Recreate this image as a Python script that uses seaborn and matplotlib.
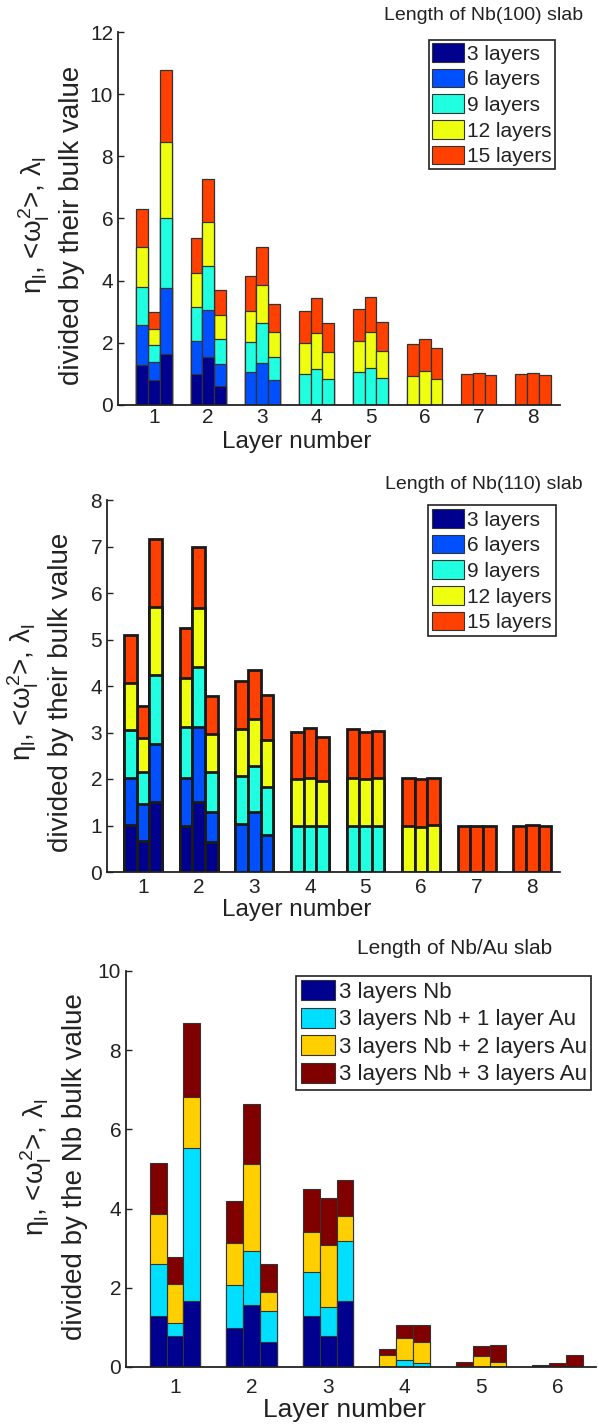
import pandas as pd
import matplotlib
matplotlib.use("Agg")
import matplotlib.pyplot as plt
from matplotlib.patches import Patch
import seaborn as sns

# ---- data (segment heights; every slab starts at layer 1) ----
quantities = ["eta", "omega2", "lambda"]

layers_100 = [1, 2, 3, 4, 5, 6, 7, 8]
slabs_100 = ["3 layers", "6 layers", "9 layers", "12 layers", "15 layers"]
nb100_3 = [(1.29, 0.81, 1.65), (0.99, 1.55, 0.62)]
nb100_6 = [(1.27, 0.56, 2.11), (1.06, 1.51, 0.70), (1.07, 1.35, 0.81)]
nb100_9 = [(1.23, 0.55, 2.26), (1.10, 1.40, 0.79), (0.97, 1.28, 0.75),
           (0.99, 1.17, 0.84), (1.05, 1.20, 0.86)]
nb100_12 = [(1.28, 0.52, 2.43), (1.10, 1.44, 0.77), (1.00, 1.23, 0.80),
            (1.00, 1.14, 0.87), (1.02, 1.16, 0.88), (0.93, 1.08, 0.85)]
nb100_15 = [(1.25, 0.55, 2.32), (1.12, 1.37, 0.83), (1.10, 1.23, 0.89),
            (1.04, 1.14, 0.93), (1.03, 1.11, 0.94), (1.03, 1.05, 0.99),
            (1.00, 1.02, 0.98), (1.00, 1.02, 0.98)]

layers_110 = [1, 2, 3, 4, 5, 6, 7, 8]
slabs_110 = ["3 layers", "6 layers", "9 layers", "12 layers", "15 layers"]
nb110_3 = [(1.02, 0.66, 1.50), (0.98, 1.50, 0.64)]
nb110_6 = [(1.00, 0.81, 1.26), (1.05, 1.61, 0.66), (1.03, 1.28, 0.80)]
nb110_9 = [(1.04, 0.69, 1.48), (1.08, 1.29, 0.85), (1.03, 1.01, 1.03),
           (0.99, 1.00, 0.99), (1.00, 1.00, 1.00)]
nb110_12 = [(1.00, 0.72, 1.45), (1.06, 1.27, 0.82), (1.02, 1.01, 1.00),
            (1.01, 1.03, 0.97), (1.03, 0.99, 1.03), (1.00, 0.97, 1.02)]
nb110_15 = [(1.04, 0.68, 1.47), (1.07, 1.31, 0.82), (1.03, 1.05, 0.98),
            (1.01, 1.06, 0.95), (1.04, 1.03, 1.01), (1.03, 1.03, 1.01),
            (1.00, 1.00, 0.99), (1.00, 1.01, 0.98)]

layers_au = [1, 2, 3, 4, 5, 6]
slabs_au = ["3 layers Nb", "3 layers Nb + 1 layer Au",
            "3 layers Nb + 2 layers Au", "3 layers Nb + 3 layers Au"]
nbau_0 = [(1.30, 0.79, 1.66), (0.98, 1.57, 0.64), (1.30, 0.79, 1.66)]
nbau_1 = [(1.30, 0.32, 3.86), (1.10, 1.36, 0.78), (1.11, 0.73, 1.51),
          (0.01, 0.17, 0.10)]
nbau_2 = [(1.26, 0.98, 1.29), (1.05, 2.19, 0.47), (1.01, 1.56, 0.65),
          (0.30, 0.57, 0.53), (0.03, 0.28, 0.12)]
nbau_3 = [(1.28, 0.70, 1.88), (1.07, 1.52, 0.72), (1.07, 1.19, 0.90),
          (0.14, 0.32, 0.42), (0.10, 0.25, 0.43), (0.04, 0.10, 0.30)]

jet_colors = ["#00008f", "#0050ff", "#20ffdf", "#efff10", "#ff4000"]
au_colors = ["#00008f", "#00dfff", "#ffcf00", "#800000"]


def stack_frame(names, values):
    rows = []
    for name, vals in zip(names, values):
        for i, triple in enumerate(vals):
            for q, v in zip(quantities, triple):
                rows.append({"series": name, "layer": i + 1, "quantity": q, "value": v})
    df = pd.DataFrame(rows)
    df["series"] = pd.Categorical(df["series"], categories=names, ordered=True)
    df = df.sort_values(["layer", "quantity", "series"])
    df["top"] = df.groupby(["layer", "quantity"])["value"].cumsum()
    return df


def draw_panel(ax, df, names, colors, layers, width, edge, lw):
    # paint cumulative tops from the top slab down so each segment shows
    for name, color in reversed(list(zip(names, colors))):
        sub = df[df["series"] == name]
        sns.barplot(data=sub, x="layer", y="top", hue="quantity",
                    order=layers, hue_order=quantities,
                    palette={q: color for q in quantities},
                    width=width, dodge=True, errorbar=None, saturation=1,
                    edgecolor=edge, linewidth=lw, legend=False, ax=ax)


sns.set_style("ticks")
plt.rcParams["font.family"] = ["Liberation Sans", "DejaVu Sans"]
plt.rcParams["mathtext.fontset"] = "custom"
plt.rcParams["mathtext.rm"] = "Liberation Sans"
plt.rcParams["mathtext.it"] = "Liberation Sans"
plt.rcParams["text.color"] = "#222222"

W, H = 599, 1426
fig = plt.figure(figsize=(W / 100, H / 100), dpi=100)


def px_axes(left, top, right, bottom):
    return fig.add_axes([left / W, 1 - bottom / H, (right - left) / W, (bottom - top) / H])


ylab1 = r"$\eta_\mathrm{l}$, <$\omega_\mathrm{l}^\mathrm{2}$>, $\lambda_\mathrm{l}$"

panels = [
    dict(box=(118, 32, 560, 405), df=stack_frame(slabs_100, [nb100_3, nb100_6, nb100_9, nb100_12, nb100_15]),
         names=slabs_100, colors=jet_colors, layers=layers_100, width=0.65, edge="#333333", lw=0.9,
         xlim=(-0.665, 7.5), ylim=(0, 12), yticks=range(0, 13, 2),
         title="Length of Nb(100) slab", title_xy=(583, 15), title_ha="right", title_fs=14,
         leg_xy=(555, 40), leg_fs=15, leg_sp=0.25, leg_bp=0.15, ylab2="divided by their bulk value",
         ylab_x=(34, 72), ylab_y=225, xlab_xy=(297, 442), xlab_fs=17.5, tick_pad=2),
    dict(box=(107, 500, 560, 872), df=stack_frame(slabs_110, [nb110_3, nb110_6, nb110_9, nb110_12, nb110_15]),
         names=slabs_110, colors=jet_colors, layers=layers_110, width=0.68, edge="#1a1a1a", lw=2.0,
         xlim=(-0.65, 7.5), ylim=(0, 8), yticks=range(0, 9),
         title="Length of Nb(110) slab", title_xy=(583, 485), title_ha="right", title_fs=14,
         leg_xy=(556, 505), leg_fs=15, leg_sp=0.25, leg_bp=0.2, ylab2="divided by their bulk value",
         ylab_x=(23, 61), ylab_y=692, xlab_xy=(297, 910), xlab_fs=17.5, tick_pad=4),
    dict(box=(126, 971, 596, 1367), df=stack_frame(slabs_au, [nbau_0, nbau_1, nbau_2, nbau_3]),
         names=slabs_au, colors=au_colors, layers=layers_au, width=0.66, edge="#333333", lw=0.8,
         xlim=(-0.64, 5.5), ylim=(0, 10), yticks=range(0, 11, 2),
         title="Length of Nb/Au slab", title_xy=(455, 948), title_ha="center", title_fs=15,
         leg_xy=(591, 976), leg_fs=16, leg_sp=0.22, leg_bp=0.2, ylab2="divided by the Nb bulk value",
         ylab_x=(36, 75), ylab_y=1167, xlab_xy=(344, 1410), xlab_fs=19, tick_pad=8),
]

for p in panels:
    ax = px_axes(*p["box"])
    draw_panel(ax, p["df"], p["names"], p["colors"], p["layers"], p["width"], p["edge"], p["lw"])
    ax.set_xlim(*p["xlim"])
    ax.set_ylim(*p["ylim"])
    ax.set_yticks(list(p["yticks"]))
    ax.set_xticks(range(len(p["layers"])))
    ax.set_xticklabels([str(v) for v in p["layers"]])
    ax.tick_params(direction="in", length=4, width=1, labelsize=15, colors="#222222")
    ax.tick_params(axis="x", length=0, pad=p["tick_pad"])
    sns.despine(ax=ax)
    for s in ["left", "bottom"]:
        ax.spines[s].set_linewidth(1.3)
        ax.spines[s].set_color("#222222")
    ax.set_xlabel("")
    ax.set_ylabel("")

    fig.text(p["xlab_xy"][0] / W, 1 - p["xlab_xy"][1] / H, "Layer number",
             ha="center", va="center", fontsize=p["xlab_fs"])
    fig.text(p["ylab_x"][0] / W, 1 - p["ylab_y"] / H, ylab1, rotation=90,
             ha="center", va="center", fontsize=20)
    fig.text(p["ylab_x"][1] / W, 1 - p["ylab_y"] / H, p["ylab2"], rotation=90,
             ha="center", va="center", fontsize=20)
    fig.text(p["title_xy"][0] / W, 1 - p["title_xy"][1] / H, p["title"],
             ha=p["title_ha"], va="center", fontsize=p["title_fs"])

    handles = [Patch(facecolor=c, edgecolor="#333333", linewidth=0.8) for c in p["colors"]]
    leg = ax.legend(handles, p["names"], loc="upper right",
                    bbox_to_anchor=(p["leg_xy"][0] / W, 1 - p["leg_xy"][1] / H),
                    bbox_transform=fig.transFigure, borderaxespad=0,
                    fontsize=p["leg_fs"], frameon=True, fancybox=False,
                    edgecolor="#222222", framealpha=1, handlelength=1.55,
                    handleheight=1.0, handletextpad=0.15, labelspacing=p["leg_sp"],
                    borderpad=p["leg_bp"])
    leg.get_frame().set_linewidth(1.2)

fig.savefig("out.png", dpi=100)
